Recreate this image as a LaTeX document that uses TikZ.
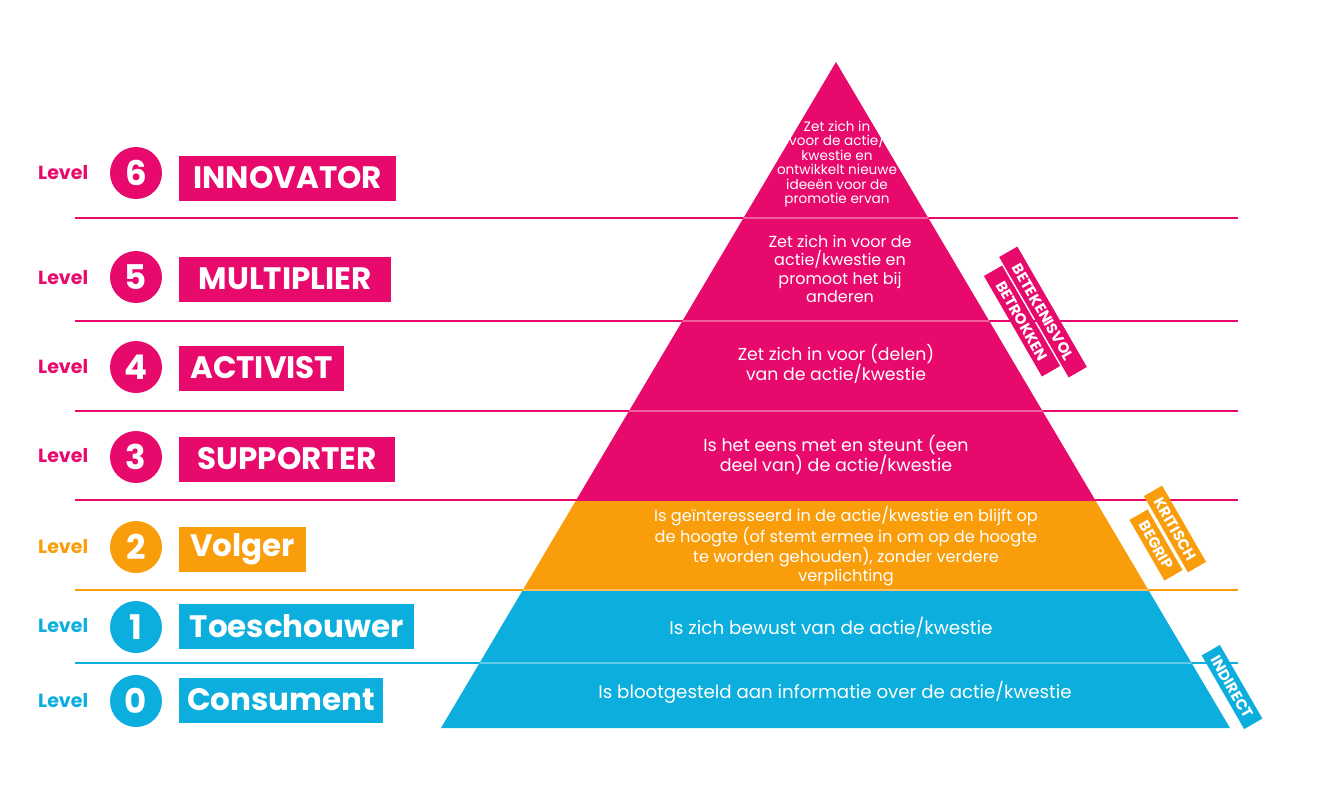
\documentclass[tikz,border=0pt]{standalone}
\usepackage{fontspec}
\setmainfont{Poppins}
\usetikzlibrary{positioning}
\definecolor{lvlpink}{HTML}{E8096C}
\definecolor{lvlorange}{HTML}{F99D0A}
\definecolor{lvlcyan}{HTML}{0BAEDC}
\tikzset{
  levelword/.style={anchor=west,inner sep=0pt,
                    font=\fontsize{19}{19}\selectfont\bfseries},
  levelnum/.style={circle,minimum size=52pt,inner sep=0pt,text=white,
                   font=\fontsize{34}{34}\selectfont\bfseries},
  levelbox/.style={anchor=west,minimum height=45pt,inner xsep=8pt,inner ysep=0pt,
                   text=white,font=\fontsize{31}{31}\selectfont\bfseries},
  pyrtext/.style={align=center,text=white,inner sep=0pt},
  tagbox/.style={rotate=-60,text=white,inner xsep=3pt,inner ysep=0pt,
                 minimum height=21pt,font=\fontsize{15}{15}\selectfont\bfseries},
  sepline/.style={line width=2pt},
  glare/.style={line width=2pt,white,opacity=0.35}
}

\begin{document}
\begin{tikzpicture}[x=1pt,y=-1pt]
  \useasboundingbox[fill=white] (0,0) rectangle (1344,788);

  % pyramid, three colour bands
  \begin{scope}
    \clip (836,62) -- (1230,728) -- (441,728) -- cycle;
    \fill[lvlpink] (430,50) rectangle (1240,500);
    \fill[lvlorange] (430,500) rectangle (1240,590);
    \fill[lvlcyan] (430,590) rectangle (1240,740);
  \end{scope}

  % separator lines
  \draw[sepline,lvlpink] (75,218) -- (1238,218);
  \draw[sepline,lvlpink] (75,321) -- (1238,321);
  \draw[sepline,lvlpink] (75,411) -- (1238,411);
  \draw[sepline,lvlpink] (75,500) -- (1238,500);
  \draw[sepline,lvlorange] (75,590) -- (1238,590);
  \draw[sepline,lvlcyan] (75,663) -- (1238,663);
  \begin{scope}
    \clip (836,62) -- (1230,728) -- (441,728) -- cycle;
    \draw[glare] (430,218) -- (1240,218);
    \draw[glare] (430,321) -- (1240,321);
    \draw[glare] (430,411) -- (1240,411);
    \draw[glare] (430,590) -- (1240,590);
    \draw[glare] (430,663) -- (1240,663);
  \end{scope}

  % left column
  \node[levelword,text=lvlpink] (word6) at (38,173) {Level};
  \node[levelnum,fill=lvlpink] (num6) at (136,173) {6};
  \node[levelbox,fill=lvlpink,minimum width=217pt] (box6) at (179,178) {INNOVATOR};

  \node[levelword,text=lvlpink] (word5) at (38,278) {Level};
  \node[levelnum,fill=lvlpink] (num5) at (136,277) {5};
  \node[levelbox,fill=lvlpink,minimum width=212pt] (box5) at (179,279) {MULTIPLIER};

  \node[levelword,text=lvlpink] (word4) at (38,367) {Level};
  \node[levelnum,fill=lvlpink] (num4) at (136,367) {4};
  \node[levelbox,fill=lvlpink,minimum width=165pt] (box4) at (179,368) {ACTIVIST};

  \node[levelword,text=lvlpink] (word3) at (38,456) {Level};
  \node[levelnum,fill=lvlpink] (num3) at (136,457) {3};
  \node[levelbox,fill=lvlpink,minimum width=216pt] (box3) at (179,459) {SUPPORTER};

  \node[levelword,text=lvlorange] (word2) at (38,547) {Level};
  \node[levelnum,fill=lvlorange] (num2) at (136,547) {2};
  \node[levelbox,fill=lvlorange,minimum width=127pt] (box2) at (179,549) {Volger};

  \node[levelword,text=lvlcyan] (word1) at (38,626) {Level};
  \node[levelnum,fill=lvlcyan] (num1) at (136,627) {1};
  \node[levelbox,fill=lvlcyan,minimum width=235pt] (box1) at (179,626) {Toeschouwer};

  \node[levelword,text=lvlcyan] (word0) at (38,701) {Level};
  \node[levelnum,fill=lvlcyan] (num0) at (136,701) {0};
  \node[levelbox,fill=lvlcyan] (box0) at (179,700) {Consument};

  % descriptions in the pyramid
  \node[pyrtext,font=\fontsize{13.6}{14.5}\selectfont] (desc6) at (837,164)
    {Zet zich in\\voor de actie/\\kwestie en\\ontwikkelt nieuwe\\ideeën voor de\\promotie ervan};
  \node[pyrtext,font=\fontsize{16}{18.5}\selectfont] (desc5) at (840,269)
    {Zet zich in voor de\\actie/kwestie en\\promoot het bij\\anderen};
  \node[pyrtext,font=\fontsize{17.3}{20}\selectfont] (desc4) at (836,364)
    {Zet zich in voor (delen)\\van de actie/kwestie};
  \node[pyrtext,font=\fontsize{17.5}{20}\selectfont] (desc3) at (836,455)
    {Is het eens met en steunt (een\\deel van) de actie/kwestie};
  \node[pyrtext,font=\fontsize{16.2}{18.5}\selectfont] (desc2) at (846,546)
    {Is geïnteresseerd in de actie/kwestie en blijft op\\de hoogte (of stemt ermee in om op de hoogte\\te worden gehouden), zonder verdere\\verplichting};
  \node[pyrtext,font=\fontsize{18.4}{20}\selectfont] (desc1) at (831,627)
    {Is zich bewust van de actie/kwestie};
  \node[pyrtext,font=\fontsize{18.2}{20}\selectfont] (desc0) at (835,692)
    {Is blootgesteld aan informatie over de actie/kwestie};

  % tilted tags
  \node[tagbox,fill=lvlpink,minimum width=139pt] (tagvol) at (1043,312) {BETEKENISVOL};
  \node[tagbox,fill=lvlpink,minimum width=116pt] (tagbet) at (1022,321) {BETROKKEN};
  \node[tagbox,fill=lvlorange,minimum width=88pt] (tagkri) at (1175,529) {KRITISCH};
  \node[tagbox,fill=lvlorange,minimum width=70pt] (tagbeg) at (1156,545) {BEGRIP};
  \node[tagbox,fill=lvlcyan,minimum width=85pt] (tagind) at (1232,687) {INDIRECT};
\end{tikzpicture}
\end{document}
